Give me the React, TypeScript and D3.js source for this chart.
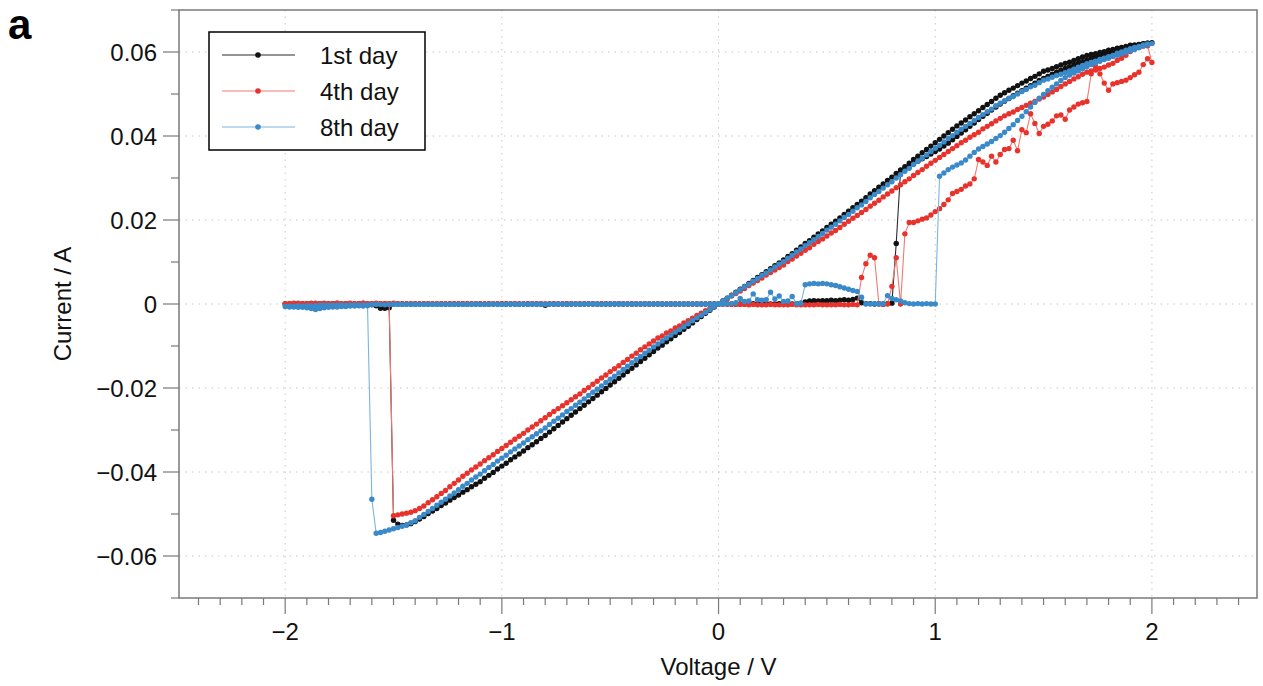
import React from "react";
import * as d3 from "d3";

const W = 1263;
const H = 686;

// Voltage sweep protocol: 0 -> +2 V -> 0 -> -2 V -> 0, step 0.02 V
const SWEEP_STEP = 0.02;
const SWEEP_MAX = 2;

// ---- 1st day (black), currents in mA ----
const day1Forward = [
  0, 0, 0, 0, 0, 0, 0, 0, 0.1, 0,
  0, 0.1, 0, 0, 0.1, 0, 0.1, 0, 0.1, 0.2,
  0.5, 0.7, 0.8, 0.7, 0.8, 0.8, 0.9, 0.8, 0.9, 1.0,
  0.9, 1.1, 1.4, 0.3, 0.1, 0.1, 0.0, 0.1, 0.0, 0.1,
  0.2, 14.4, 31.6, 32.2, 32.8, 33.4, 34.0, 34.6, 35.1, 35.7,
  36.3, 36.9, 37.6, 38.3, 39.1, 39.9, 40.7, 41.5, 42.3, 43.1,
  43.9, 44.7, 45.4, 46.2, 46.9, 47.6, 48.3, 48.9, 49.6, 50.2,
  50.8, 51.4, 52.0, 52.6, 53.2, 53.7, 54.2, 54.7, 55.2, 55.6,
  56.1, 56.5, 56.9, 57.3, 57.7, 58.1, 58.5, 58.8, 59.2, 59.5,
  59.8, 60.1, 60.4, 60.7, 61.0, 61.3, 61.5, 61.7, 61.9, 62.1,
  62.2,
];
const day1Return = [
  62.1, 62.0, 61.8, 61.7, 61.6, 61.3, 61.1, 60.9, 60.6, 60.4,
  60.1, 59.9, 59.6, 59.4, 59.2, 58.8, 58.4, 58.0, 57.6, 57.3,
  56.9, 56.5, 56.1, 55.7, 55.4, 54.8, 54.2, 53.7, 53.1, 52.6,
  52.0, 51.4, 50.9, 50.3, 49.7, 49.0, 48.2, 47.5, 46.8, 46.0,
  45.3, 44.6, 43.8, 43.1, 42.4, 41.6, 40.8, 40.0, 39.2, 38.4,
  37.6, 36.8, 36.0, 35.2, 34.4, 33.5, 32.7, 31.9, 31.1, 30.2,
  29.4, 28.6, 27.8, 27.0, 26.2, 25.3, 24.5, 23.7, 22.9, 22.1,
  21.3, 20.5, 19.7, 19.0, 18.2, 17.4, 16.7, 15.9, 15.1, 14.4,
  13.6, 12.8, 12.0, 11.3, 10.5, 9.8, 9.1, 8.4, 7.7, 7.0,
  6.3, 5.6, 4.9, 4.2, 3.5, 2.8, 2.1, 1.4, 0.7, 0.0,
];
const day1Negative = [
  -0.7, -1.5, -2.2, -3.0, -3.7, -4.5, -5.3, -6.0, -6.8, -7.5,
  -8.3, -9.0, -9.8, -10.5, -11.3, -12.1, -12.9, -13.7, -14.5, -15.3,
  -16.1, -16.9, -17.7, -18.5, -19.3, -20.1, -20.9, -21.7, -22.5, -23.3,
  -24.1, -24.9, -25.7, -26.5, -27.3, -28.1, -28.9, -29.7, -30.5, -31.3,
  -32.0, -32.8, -33.5, -34.2, -35.0, -35.7, -36.4, -37.1, -37.9, -38.6,
  -39.3, -40.1, -40.8, -41.5, -42.3, -42.9, -43.5, -44.2, -44.8, -45.5,
  -46.1, -46.7, -47.4, -48.0, -48.7, -49.3, -49.9, -50.6, -51.2, -51.8,
  -52.3, -52.6, -52.7, -52.4, -51.5, -0.9, -1.0, -1.0, -0.4, -0.2,
  -0.1, 0, 0, -0.1, 0, 0, 0, -0.1, 0, 0,
  0, 0, -0.1, 0, 0, 0, 0, 0, 0, 0,
];
const day1Back = [
  0, 0, 0, 0, 0, 0, 0, 0, 0, 0,
  0, 0, 0, 0, 0, 0, 0, 0, 0, 0,
  0, 0, 0, 0, 0, 0, 0, 0, 0, 0,
  0, 0, 0, 0, 0, 0, 0, 0, 0, 0,
  0, 0, 0, 0, 0, 0, 0, 0, 0, 0,
  0, 0, 0, 0, 0, 0, 0, 0, 0, -0.3,
  0, 0, 0, 0, 0, 0, 0, 0, 0, 0,
  0, 0, 0, 0, 0, 0, 0, 0, 0, 0,
  0, 0, 0, 0, 0, 0, 0, 0, 0, 0,
  0, 0, 0, 0, 0, 0, 0, 0, 0, 0,
];

// ---- 4th day (red), currents in mA ----
const day4Forward = [
  0, 0, 0, -0.1, -0.1, -0.1, -0.1, -0.2, -0.1, -0.2,
  -0.2, -0.2, -0.1, -0.2, -0.2, -0.2, -0.2, -0.1, -0.2, -0.2,
  -0.2, -0.2, -0.2, -0.1, -0.2, -0.2, -0.2, -0.2, -0.1, -0.2,
  -0.2, -0.1, -0.2, 6.3, 9.6, 11.6, 11.0, 0.0, -0.1, 0.0,
  4.2, 11.0, 0.0, 16.7, 19.4, 19.4, 19.8, 20.2, 20.5, 21.2,
  22.0, 22.7, 23.7, 24.8, 26.3, 26.8, 27.3, 28.1, 28.6, 29.8,
  34.4, 33.8, 33.0, 35.2, 33.8, 35.6, 36.8, 37.0, 39.0, 36.5,
  41.5, 40.8, 45.3, 43.0, 40.6, 42.3, 42.8, 43.6, 44.8, 45.0,
  44.0, 46.2, 46.9, 47.6, 47.9, 48.2, 54.8, 56.5, 54.8, 52.6,
  50.9, 52.4, 52.7, 53.0, 53.3, 53.9, 54.6, 55.2, 57.0, 58.4,
  57.5,
];
const day4Return = [
  61.5, 61.4, 61.1, 60.8, 60.1, 59.2, 58.5, 58.0, 57.3, 56.9,
  56.4, 56.1, 55.7, 55.5, 55.2, 54.7, 54.1, 53.6, 53.0, 52.4,
  51.8, 51.1, 50.5, 49.9, 49.3, 48.8, 48.2, 47.8, 47.3, 46.8,
  46.3, 45.7, 45.3, 44.8, 44.2, 43.6, 42.9, 42.3, 41.7, 40.9,
  40.3, 39.7, 39.0, 38.4, 37.7, 37.0, 36.3, 35.6, 34.9, 34.2,
  33.5, 32.8, 32.0, 31.3, 30.6, 29.8, 29.1, 28.4, 27.7, 26.9,
  26.2, 25.5, 24.7, 24.0, 23.3, 22.5, 21.8, 21.1, 20.4, 19.7,
  19.0, 18.2, 17.5, 16.9, 16.2, 15.5, 14.9, 14.2, 13.4, 12.8,
  12.1, 11.4, 10.7, 10.1, 9.3, 8.7, 8.1, 7.5, 6.9, 6.2,
  5.6, 5.0, 4.4, 3.7, 3.1, 2.5, 1.9, 1.2, 0.6, 0.0,
];
const day4Negative = [
  -0.5, -1.1, -1.6, -2.2, -2.7, -3.4, -4.0, -4.5, -5.2, -5.7,
  -6.4, -6.9, -7.6, -8.1, -8.8, -9.5, -10.2, -10.9, -11.7, -12.4,
  -13.2, -13.9, -14.7, -15.4, -16.1, -16.9, -17.6, -18.4, -19.1, -19.9,
  -20.6, -21.4, -22.1, -22.8, -23.5, -24.2, -24.9, -25.6, -26.3, -27.1,
  -27.8, -28.6, -29.3, -30.0, -30.8, -31.5, -32.2, -32.9, -33.7, -34.4,
  -35.1, -35.9, -36.6, -37.3, -38.1, -38.8, -39.5, -40.3, -41.0, -41.9,
  -42.7, -43.5, -44.4, -45.1, -45.9, -46.6, -47.3, -48.1, -48.7, -49.2,
  -49.6, -49.8, -50.0, -50.2, -50.4, 0.0, 0.1, 0.1, 0.2, 0.1,
  0.1, 0.2, 0.1, 0.1, 0.2, 0.1, 0.1, 0.2, 0.1, 0.1,
  0.2, 0.1, 0.1, 0.2, 0.1, 0.1, 0.1, 0.2, 0.1, 0.1,
];
const day4Back = [
  0.1, 0.1, 0.2, 0.1, 0.1, 0.1, 0.2, 0.1, 0.1, 0.1,
  0.1, 0.2, 0.1, 0.1, 0.1, 0.1, 0.1, 0.2, 0.1, 0.1,
  0.1, 0.1, 0.1, 0.1, 0.2, 0.1, 0.1, 0.1, 0.1, 0.1,
  0.1, 0.1, 0.1, 0.1, 0.1, 0.1, 0.1, 0.1, 0.1, 0.1,
  0.1, 0.1, 0.1, 0.1, 0.1, 0.0, 0.1, 0.1, 0.1, 0.1,
  0.1, 0.1, 0.1, 0.0, 0.1, 0.1, 0.1, 0.1, 0.1, 0.1,
  0.1, 0.1, 0.0, 0.1, 0.1, 0.1, 0.1, 0.0, 0.1, 0.1,
  0.1, 0.0, 0.1, 0.1, 0.0, 0.1, 0.1, 0.0, 0.1, 0.0,
  0.1, 0.0, 0.1, 0.0, 0.0, 0.1, 0.0, 0.0, 0.0, 0.0,
  0.0, 0.0, 0.0, 0.0, 0.0, 0.0, 0.0, 0.0, 0.0, 0.0,
];

// ---- 8th day (blue), currents in mA ----
const day8Forward = [
  0.0, 0.0, 0.1, 0.1, 0.3, 1.3, 0.6, 0.7, 2.4, 1.0,
  0.9, 1.0, 2.8, 1.2, 1.9, 0.6, 0.7, 1.8, 0.1, 0.2,
  4.6, 4.8, 4.9, 4.8, 4.9, 4.8, 4.6, 4.4, 4.1, 3.8,
  3.5, 3.2, 3.0, 1.6, 0.0, 0.0, 0.1, 0.0, 0.1, 2.0,
  1.3, 1.0, 0.7, 0.3, 0.1, 0.0, 0.1, 0.0, 0.1, 0.0,
  0.0, 30.4, 31.2, 32.0, 32.6, 33.1, 33.6, 34.3, 35.2, 36.1,
  36.9, 37.5, 38.1, 38.7, 39.4, 40.1, 40.9, 41.8, 42.7, 43.7,
  44.7, 45.8, 46.9, 48.0, 49.0, 49.9, 50.8, 51.6, 52.4, 53.2,
  53.9, 54.5, 55.0, 55.5, 56.0, 56.5, 57.0, 57.4, 57.8, 58.2,
  58.5, 58.9, 59.2, 59.6, 59.9, 60.3, 60.6, 61.0, 61.4, 61.7,
  62.0,
];
const day8Return = [
  61.9, 61.7, 61.3, 61.1, 60.8, 60.4, 60.0, 59.7, 59.2, 58.9,
  58.5, 58.2, 57.8, 57.5, 57.2, 56.8, 56.4, 55.9, 55.5, 55.1,
  54.7, 54.4, 54.0, 53.6, 53.3, 52.7, 52.1, 51.7, 51.1, 50.6,
  50.0, 49.4, 49.0, 48.4, 47.8, 47.2, 46.4, 45.8, 45.1, 44.4,
  43.7, 43.0, 42.3, 41.6, 40.9, 40.1, 39.4, 38.6, 37.8, 37.1,
  36.3, 35.5, 34.7, 34.0, 33.2, 32.3, 31.6, 30.8, 30.0, 29.1,
  28.4, 27.6, 26.8, 26.1, 25.3, 24.4, 23.6, 22.9, 22.1, 21.3,
  20.6, 19.8, 19.0, 18.3, 17.6, 16.8, 16.1, 15.3, 14.6, 13.9,
  13.1, 12.4, 11.6, 10.9, 10.1, 9.5, 8.8, 8.1, 7.4, 6.8,
  6.1, 5.4, 4.7, 4.1, 3.4, 2.7, 2.0, 1.4, 0.7, 0.0,
];
const day8Negative = [
  -0.6, -1.3, -2.0, -2.7, -3.3, -4.0, -4.7, -5.4, -6.1, -6.7,
  -7.4, -8.1, -8.8, -9.5, -10.2, -11.0, -11.7, -12.5, -13.2, -14.0,
  -14.8, -15.6, -16.4, -17.2, -17.9, -18.7, -19.5, -20.3, -21.0, -21.8,
  -22.6, -23.4, -24.1, -24.9, -25.6, -26.4, -27.2, -27.9, -28.7, -29.5,
  -30.2, -30.9, -31.6, -32.3, -33.1, -33.8, -34.5, -35.2, -36.0, -36.7,
  -37.4, -38.2, -38.9, -39.7, -40.5, -41.2, -41.9, -42.7, -43.4, -44.2,
  -45.0, -45.7, -46.5, -47.2, -47.9, -48.7, -49.4, -50.1, -50.8, -51.6,
  -52.1, -52.6, -52.9, -53.2, -53.5, -53.8, -54.1, -54.4, -54.6, -46.5,
  -0.4, -0.5, -0.4, -0.5, -0.5, -0.6, -0.6, -0.7, -0.7, -0.8,
  -0.9, -1.1, -1.3, -1.1, -0.9, -0.8, -0.8, -0.7, -0.7, -0.6,
];
const day8Back = [
  -0.5, -0.5, -0.4, -0.5, -0.4, -0.4, -0.4, -0.3, -0.3, -0.3,
  -0.3, -0.3, -0.2, -0.3, -0.2, -0.2, -0.2, -0.2, -0.2, -0.1,
  -0.1, -0.1, -0.2, -0.1, -0.1, -0.1, -0.1, -0.1, -0.1, -0.1,
  -0.1, -0.1, -0.1, -0.1, -0.1, -0.1, -0.1, -0.1, -0.1, -0.1,
  -0.1, -0.1, -0.1, 0.0, -0.1, -0.1, -0.1, 0.0, -0.1, -0.1,
  -0.1, 0.0, -0.1, -0.1, 0.0, -0.1, 0.0, -0.1, 0.0, -0.1,
  0.0, -0.1, 0.0, 0.0, -0.1, 0.0, 0.0, -0.1, 0.0, 0.0,
  0.0, 0.0, -0.1, 0.0, 0.0, 0.0, 0.0, 0.0, 0.0, 0.0,
  0.0, 0.0, 0.0, 0.0, 0.0, 0.0, 0.0, 0.0, 0.0, 0.0,
  0.0, 0.0, 0.0, 0.0, 0.0, 0.0, 0.0, 0.0, 0.0, 0.0,
];

// ---- axes / legend text ----
const xMajorTicks = [-2, -1, 0, 1, 2];
const xMajorLabels = ["\u22122", "\u22121", "0", "1", "2"];
const yMajorTicks = [-0.06, -0.04, -0.02, 0, 0.02, 0.04, 0.06];
const yMajorLabels = ["\u22120.06", "\u22120.04", "\u22120.02", "0", "0.02", "0.04", "0.06"];
const seriesLabels = ["1st day", "4th day", "8th day"];
const dotColors = ["#111111", "#e8332c", "#3a89c9"];
const lineColors = ["#2a2a2a", "#ef7a72", "#7cb4de"];
const xTitle = "Voltage / V";
const yTitle = "Current / A";
const panelLetter = "a";

type Pt = [number, number];

function buildSweep(fwd: number[], ret: number[], neg: number[], back: number[]): Pt[] {
  const pts: Pt[] = [];
  fwd.forEach((c, i) => pts.push([i * SWEEP_STEP, c / 1000]));
  ret.forEach((c, i) => pts.push([SWEEP_MAX - (i + 1) * SWEEP_STEP, c / 1000]));
  neg.forEach((c, i) => pts.push([-(i + 1) * SWEEP_STEP, c / 1000]));
  back.forEach((c, i) => pts.push([-SWEEP_MAX + (i + 1) * SWEEP_STEP, c / 1000]));
  return pts;
}

const FONT = "'Liberation Sans', Arial, Helvetica, sans-serif";

export default function App() {
  const left = 179, right = 1257, top = 10, bottom = 598;
  const x = d3.scaleLinear().domain([-2.49, 2.485]).range([left, right]);
  const y = d3.scaleLinear().domain([-0.07, 0.07]).range([bottom, top]);

  const series = [
    buildSweep(day1Forward, day1Return, day1Negative, day1Back),
    buildSweep(day4Forward, day4Return, day4Negative, day4Back),
    buildSweep(day8Forward, day8Return, day8Negative, day8Back),
  ];

  const line = d3
    .line<Pt>()
    .x((d) => x(d[0]))
    .y((d) => y(d[1]));

  const xMinor = x.ticks(50);
  const yMinor = y.ticks(14);
  const axisColor = "#7a7a7a";

  const legendRows = [55, 91, 127];

  return (
    <svg
      width={W}
      height={H}
      style={{ position: "absolute", left: 0, top: 0, background: "#fff" }}
      fontFamily={FONT}
    >
      <rect x={0} y={0} width={W} height={H} fill="#fff" />
      {/* grid */}
      <g stroke="#c8c8c8" strokeWidth={1} strokeDasharray="1.5 5">
        {xMajorTicks.map((t) => (
          <line key={"gx" + t} x1={x(t)} x2={x(t)} y1={top} y2={bottom} />
        ))}
        {yMajorTicks.map((t) => (
          <line key={"gy" + t} x1={left} x2={right} y1={y(t)} y2={y(t)} />
        ))}
      </g>

      {/* series */}
      {series.map((pts, si) => (
        <g key={"s" + si}>
          <path d={line(pts) || ""} fill="none" stroke={lineColors[si]} strokeWidth={1.1} />
          {pts.map((p, i) => (
            <circle key={i} cx={x(p[0])} cy={y(p[1])} r={2.7} fill={dotColors[si]} />
          ))}
        </g>
      ))}

      {/* frame */}
      <rect x={left} y={top} width={right - left} height={bottom - top} fill="none" stroke={axisColor} strokeWidth={1.5} />

      {/* ticks */}
      <g stroke={axisColor} strokeWidth={1.2}>
        {xMinor.map((t) => {
          const major = Math.abs(t - Math.round(t)) < 1e-6;
          return <line key={"xt" + t} x1={x(t)} x2={x(t)} y1={bottom} y2={bottom + (major ? 16 : 7)} />;
        })}
        {yMinor.map((t) => {
          const major = yMajorTicks.some((m) => Math.abs(m - t) < 1e-9);
          return <line key={"yt" + t} x1={left} x2={left - (major ? 16 : 8)} y1={y(t)} y2={y(t)} />;
        })}
      </g>

      {/* tick labels */}
      <g fontSize={24} fill="#111">
        {xMajorTicks.map((t, i) => (
          <text key={"xl" + t} x={x(t)} y={640} textAnchor="middle">
            {xMajorLabels[i]}
          </text>
        ))}
        {yMajorTicks.map((t, i) => (
          <text key={"yl" + t} x={157} y={y(t) + 8.5} textAnchor="end">
            {yMajorLabels[i]}
          </text>
        ))}
      </g>

      {/* axis titles */}
      <text x={x(0)} y={675} textAnchor="middle" fontSize={24} fill="#111">
        {xTitle}
      </text>
      <text
        transform={`translate(71,${y(0)}) rotate(-90)`}
        textAnchor="middle"
        fontSize={24}
        fill="#111"
      >
        {yTitle}
      </text>

      {/* panel letter */}
      <text x={8} y={39} fontSize={42} fontWeight="bold" fill="#000">
        {panelLetter}
      </text>

      {/* legend */}
      <rect x={209} y={32} width={216} height={118} fill="#fff" stroke="#000" strokeWidth={1.5} />
      {seriesLabels.map((lab, i) => (
        <g key={"lg" + i}>
          <line x1={222} x2={295} y1={legendRows[i]} y2={legendRows[i]} stroke={lineColors[i]} strokeWidth={1.2} />
          <circle cx={258} cy={legendRows[i]} r={2.8} fill={dotColors[i]} />
          <text x={320} y={legendRows[i] + 8.5} fontSize={24} fill="#111">
            {lab}
          </text>
        </g>
      ))}
    </svg>
  );
}
